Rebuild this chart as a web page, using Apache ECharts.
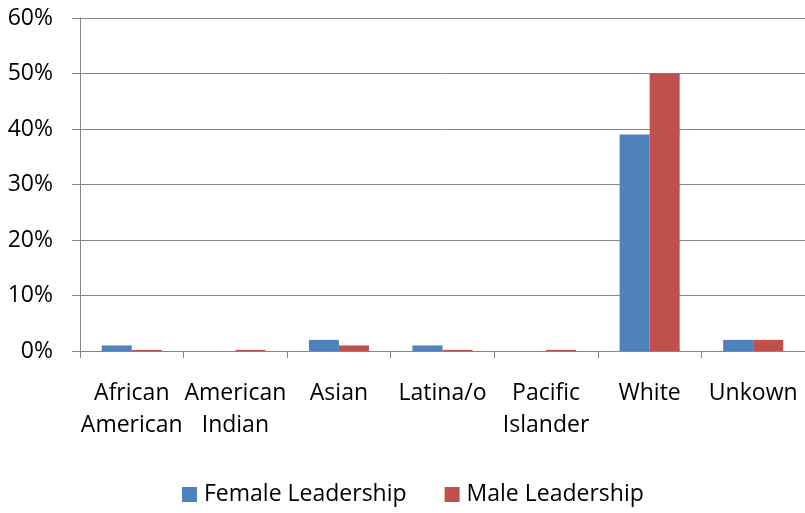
<!DOCTYPE html>
<html><head><meta charset="utf-8">
<script src="https://cdn.jsdelivr.net/npm/echarts@6/dist/echarts.min.js"></script>
<style>html,body{margin:0;padding:0;background:#fff}#c{width:805px;height:513px}</style>
</head><body><div id="c"></div>
<script>
const categories = ["African American","American Indian","Asian","Latina/o","Pacific Islander","White","Unkown"];
const femaleLeadership = [1, 0, 2, 1, 0, 39, 2];
const maleLeadership = [0.2, 0.2, 1, 0.2, 0.2, 50, 2];
const seriesNames = ["Female Leadership","Male Leadership"];
const yTicks = {min:0, max:60, interval:10};

const FONT = 'Open Sans';
const FS = 23;
const chart = echarts.init(document.getElementById('c'), null, {renderer:'canvas'});
chart.setOption({
  animation:false,
  textStyle:{fontFamily:FONT},
  grid:{left:80, right:0, top:18, bottom:162, containLabel:false},
  legend:{
    bottom:2, left:177, itemWidth:15, itemHeight:15, itemGap:38,
    icon:'rect',
    textStyle:{fontFamily:FONT, fontSize:FS, color:'#000', padding:[0,0,0,2]},
    data:seriesNames
  },
  xAxis:{
    type:'category', data:categories,
    axisLine:{lineStyle:{color:'#868686', width:1}},
    axisTick:{show:true, length:7, lineStyle:{color:'#868686'}},
    axisLabel:{
      interval:0, margin:26, fontFamily:FONT, fontSize:FS, color:'#000',
      lineHeight:32, formatter:v => v.replace(' ', '\n')
    }
  },
  yAxis:{
    type:'value', min:yTicks.min, max:yTicks.max, interval:yTicks.interval,
    axisLine:{show:true, lineStyle:{color:'#868686', width:1}},
    axisTick:{show:true, length:8, lineStyle:{color:'#868686'}},
    splitLine:{lineStyle:{color:'#868686', width:1}},
    axisLabel:{formatter:'{value}%', margin:27, fontFamily:FONT, fontSize:FS, color:'#000'}
  },
  series:[
    {name:seriesNames[0], type:'bar', data:femaleLeadership, barGap:'0%', barCategoryGap:'42%',
     itemStyle:{color:'#4F81BD'}},
    {name:seriesNames[1], type:'bar', data:maleLeadership, barGap:'0%', barCategoryGap:'42%',
     itemStyle:{color:'#C0504D'}}
  ]
});
</script></body></html>
